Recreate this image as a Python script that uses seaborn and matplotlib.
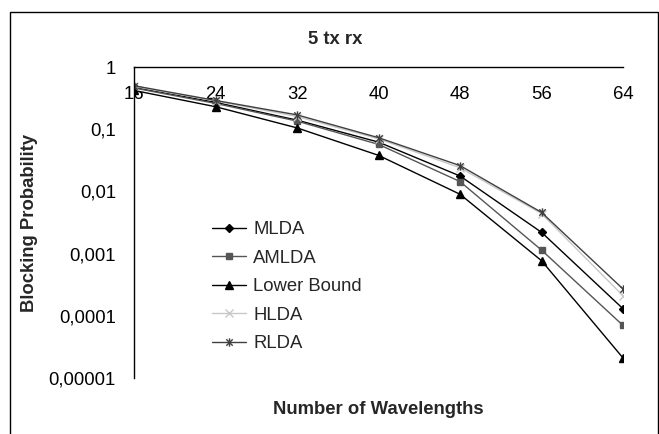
import numpy as np
import pandas as pd
import matplotlib
matplotlib.use("Agg")
import matplotlib.pyplot as plt
from matplotlib.patches import Rectangle
from matplotlib.path import Path
import seaborn as sns

# data
wavelengths = [16, 24, 32, 40, 48, 56, 64]
mlda = [0.47, 0.27, 0.14, 0.062, 0.0177, 0.0022, 0.00013]
amlda = [0.46, 0.26, 0.135, 0.057, 0.0144, 0.00114, 0.00007]
lower_bound = [0.42, 0.23, 0.105, 0.038, 0.0090, 0.00077, 0.000021]
hlda = [0.49, 0.285, 0.16, 0.070, 0.024, 0.0044, 0.00021]
rlda = [0.50, 0.29, 0.17, 0.073, 0.026, 0.0046, 0.00027]

ytick_vals = [1, 0.1, 0.01, 0.001, 0.0001, 0.00001]
ytick_labels = ["1", "0,1", "0,01", "0,001", "0,0001", "0,00001"]

sns.set_style("white")
plt.rcParams['font.family'] = ['Liberation Sans', 'DejaVu Sans']
FS = 13.3

# excel style star: x with a vertical bar
star = Path([(-1, -1), (1, 1), (-1, 1), (1, -1), (0, -1.3), (0, 1.3)],
            [Path.MOVETO, Path.LINETO, Path.MOVETO, Path.LINETO, Path.MOVETO, Path.LINETO])

series = [
    ("MLDA", mlda, "#000000", "D", 4.5),
    ("AMLDA", amlda, "#555555", "s", 5),
    ("Lower Bound", lower_bound, "#000000", "^", 6),
    ("HLDA", hlda, "#c8c8c8", "x", 6),
    ("RLDA", rlda, "#404040", star, 6),
]

fig = plt.figure(figsize=(6.59, 4.34), dpi=100)
ax = fig.add_axes([134/659, 1-378/434, (623-134)/659, (378-67)/434])

for name, vals, col, mk, ms in series:
    df = pd.DataFrame({"x": wavelengths, "y": vals})
    sns.lineplot(data=df, x="x", y="y", ax=ax, color=col, marker=mk, ms=ms,
                 mec=col, mfc=col, mew=1, lw=1, label=name)

ax.set_yscale("log")
ax.set_ylim(0.00001, 1)
ax.set_xlim(16, 64)
ax.set_xticks(wavelengths)
ax.set_xticklabels([str(w) for w in wavelengths])
ax.set_yticks(ytick_vals)
ax.set_yticklabels(ytick_labels)
ax.yaxis.set_minor_locator(matplotlib.ticker.NullLocator())

# category axis crosses at 1 in the original, so the x spine sits at the top
ax.spines["bottom"].set_position(("axes", 1.0))
ax.spines["top"].set_visible(False)
ax.spines["right"].set_visible(False)
for s in ["bottom", "left"]:
    ax.spines[s].set_color("black")
    ax.spines[s].set_linewidth(1)
ax.tick_params(axis="x", direction="out", length=6, width=1, pad=8, colors="black", labelsize=FS)
ax.tick_params(axis="y", direction="out", length=6, width=1, pad=7, colors="black", labelsize=FS)

ax.set_xlabel("Number of Wavelengths", fontsize=FS, fontweight="bold", va="center")
ax.xaxis.set_label_coords(0.5, (378-410)/311)
ax.set_ylabel("Blocking Probability", fontsize=FS, fontweight="bold", va="center")
ax.yaxis.set_label_coords((30-134)/489, 0.5)

fig.text(335/659, 1-40/434, "5 tx rx", fontsize=FS, fontweight="bold", ha="center", va="center")

leg = ax.legend(loc="upper left", bbox_to_anchor=(205/659, 1-214/434), bbox_transform=fig.transFigure,
                frameon=False, fontsize=FS, handlelength=1.8, handletextpad=0.4, labelspacing=0.62,
                borderaxespad=0)

fig.add_artist(Rectangle((10/659, -0.1), 648/659, 1.1-12/434, transform=fig.transFigure,
                         fill=False, edgecolor="black", lw=1))

fig.savefig("out.png", dpi=100)
